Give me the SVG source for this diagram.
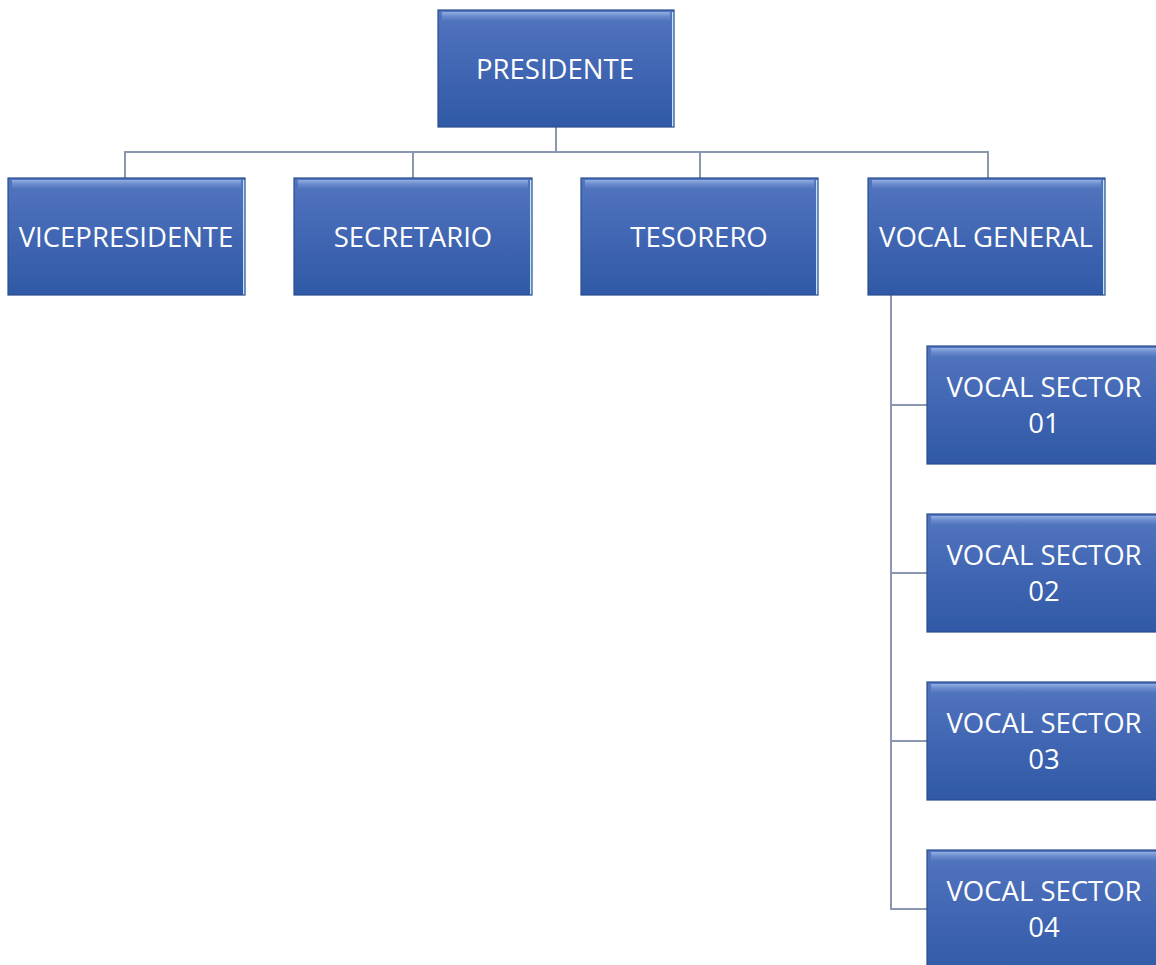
<svg xmlns="http://www.w3.org/2000/svg" width="1156" height="965" viewBox="0 0 1156 965">
<style>
.box{fill:url(#g)}
.hl{fill:url(#hl)}
.edge{fill:none;stroke:#2a4c8c;stroke-width:1.2}
.redge{stroke:#bfe6ff;stroke-width:2}
.t{font-family:"Open Sans","Liberation Sans",sans-serif;font-size:27.5px;fill:#ffffff;text-anchor:middle}
.c{fill:none;stroke:#8c96b0;stroke-width:2}
</style>
<defs>
<linearGradient id="g" x1="0" y1="0" x2="0" y2="1">
<stop offset="0" stop-color="#5275bf"/>
<stop offset="0.5" stop-color="#4166b3"/>
<stop offset="1" stop-color="#2f59a6"/>
</linearGradient>
<linearGradient id="hl" x1="0" y1="0" x2="0" y2="1">
<stop offset="0" stop-color="#9bb4e4" stop-opacity="0.9"/>
<stop offset="1" stop-color="#6a8ccf" stop-opacity="0"/>
</linearGradient>
</defs>
<g id="connectors">
<path class="c" d="M556 127V152M125 178V152H988V178M413 152V178M700 152V178"/>
<path class="c" d="M891 295V910M891 405H927M891 573H927M891 741H927M891 909H927"/>
</g>
<g id="presidente">
<rect class="box" x="438" y="10" width="236" height="117"/>
<rect class="hl" x="442" y="12" width="228" height="10"/>
<line class="redge" x1="673" y1="12" x2="673" y2="127"/>
<rect class="edge" x="438" y="10" width="236" height="117"/>
<text class="t" x="555" y="79">PRESIDENTE</text>
</g>
<g id="vicepresidente">
<rect class="box" x="8" y="178" width="237" height="117"/>
<rect class="hl" x="12" y="180" width="229" height="10"/>
<line class="redge" x1="244" y1="180" x2="244" y2="295"/>
<rect class="edge" x="8" y="178" width="237" height="117"/>
<text class="t" x="126" y="247">VICEPRESIDENTE</text>
</g>
<g id="secretario">
<rect class="box" x="294" y="178" width="238" height="117"/>
<rect class="hl" x="298" y="180" width="230" height="10"/>
<line class="redge" x1="531" y1="180" x2="531" y2="295"/>
<rect class="edge" x="294" y="178" width="238" height="117"/>
<text class="t" x="413" y="247">SECRETARIO</text>
</g>
<g id="tesorero">
<rect class="box" x="581" y="178" width="237" height="117"/>
<rect class="hl" x="585" y="180" width="229" height="10"/>
<line class="redge" x1="817" y1="180" x2="817" y2="295"/>
<rect class="edge" x="581" y="178" width="237" height="117"/>
<text class="t" x="699" y="247">TESORERO</text>
</g>
<g id="vocal-general">
<rect class="box" x="868" y="178" width="237" height="117"/>
<rect class="hl" x="872" y="180" width="229" height="10"/>
<line class="redge" x1="1104" y1="180" x2="1104" y2="295"/>
<rect class="edge" x="868" y="178" width="237" height="117"/>
<text class="t" x="986" y="247">VOCAL GENERAL</text>
</g>
<g id="vocal-sector-01">
<rect class="box" x="927" y="346" width="240" height="118"/>
<rect class="hl" x="931" y="348" width="232" height="10"/>
<rect class="edge" x="927" y="346" width="240" height="118"/>
<text class="t" x="1044" y="397">VOCAL SECTOR</text>
<text class="t" x="1044" y="433">01</text>
</g>
<g id="vocal-sector-02">
<rect class="box" x="927" y="514" width="240" height="118"/>
<rect class="hl" x="931" y="516" width="232" height="10"/>
<rect class="edge" x="927" y="514" width="240" height="118"/>
<text class="t" x="1044" y="565">VOCAL SECTOR</text>
<text class="t" x="1044" y="601">02</text>
</g>
<g id="vocal-sector-03">
<rect class="box" x="927" y="682" width="240" height="118"/>
<rect class="hl" x="931" y="684" width="232" height="10"/>
<rect class="edge" x="927" y="682" width="240" height="118"/>
<text class="t" x="1044" y="733">VOCAL SECTOR</text>
<text class="t" x="1044" y="769">03</text>
</g>
<g id="vocal-sector-04">
<rect class="box" x="927" y="850" width="240" height="130"/>
<rect class="hl" x="931" y="852" width="232" height="10"/>
<rect class="edge" x="927" y="850" width="240" height="130"/>
<text class="t" x="1044" y="901">VOCAL SECTOR</text>
<text class="t" x="1044" y="937">04</text>
</g>
</svg>
